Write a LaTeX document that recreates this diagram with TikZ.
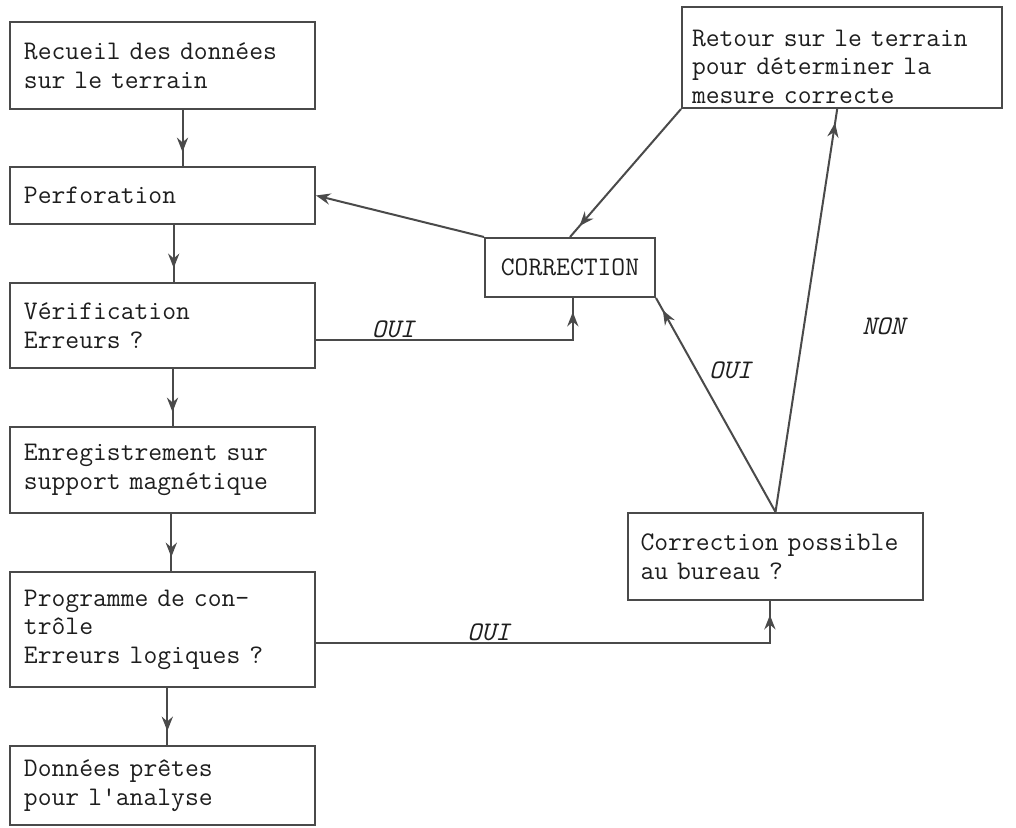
\documentclass[tikz,border=0pt]{standalone}
\usepackage{fontspec}
\usetikzlibrary{arrows.meta,decorations.markings,positioning}
\definecolor{trait}{HTML}{4A4A4A}
\definecolor{encre}{HTML}{1E1E1E}
\newcommand{\policeboite}{\ttfamily\fontsize{19.1pt}{20.3pt}\selectfont}
\tikzset{
  boite/.style={draw=trait, line width=0.5mm, text=encre, align=left, inner xsep=3.5mm, inner ysep=0pt, font=\policeboite},
  gauche/.style={boite, text width=69.25mm},
  pointe/.tip={Stealth[length=3.6mm, width=2.8mm, inset=1.2mm]},
  fleche/.style={color=trait, line width=0.5mm, postaction={decorate},
    decoration={markings, mark=at position -3.5mm with {\arrow{pointe}}}},
  flechebout/.style={color=trait, line width=0.5mm, -pointe},
  reponse/.style={text=encre, font=\policeboite\itshape, inner sep=1pt},
}
\begin{document}
\begin{tikzpicture}[x=0.25mm, y=-0.25mm]
\fill[white] (0,0) rectangle (1016,827);
\useasboundingbox (0,0) rectangle (1016,827);
% colonne de gauche
\node[gauche, minimum height=21.75mm] (recueil) at (162.5,65.5) {Recueil des données\\sur le terrain};
\node[gauche, minimum height=14.25mm] (perfo) at (162.5,195.5) {Perforation};
\node[gauche, minimum height=21.25mm] (verif) at (162.5,325.5) {Vérification\\Erreurs ?};
\node[gauche, minimum height=21.5mm] (enreg) at (162.5,470) {Enregistrement sur\\support magnétique};
\node[gauche, minimum height=28.75mm] (prog) at (162.5,629.5) {Programme de con-\\trôle\\Erreurs logiques ?};
\node[gauche, minimum height=19.75mm] (donnees) at (162.5,785.5) {Données prêtes\\pour l'analyse};
% cote droit
\node[boite, inner xsep=2.5mm, text width=75mm, minimum height=25.25mm] (retour) at (842,57.5) {\rule{0pt}{25pt}Retour sur le terrain\\pour déterminer la\\mesure correcte};
\node[boite, align=center, minimum width=42.5mm, minimum height=14.75mm] (corr) at (570,267.5) {CORRECTION};
\node[boite, inner xsep=3.1mm, text width=67.5mm, minimum height=21.75mm] (bureau) at (775.5,556.5) {Correction possible\\au bureau ?};
% fleches
\foreach \a/\b/\d in {recueil/perfo/5mm, perfo/verif/2.8mm, verif/enreg/2.5mm, enreg/prog/2.2mm, prog/donnees/1.2mm}
  \draw[fleche] ([xshift=\d]\a.south) -- ([xshift=\d]\b.north);
\draw[fleche] ([yshift=-3.6mm]verif.east) -| node[reponse, pos=0.15, above] (oui1) {OUI} ([xshift=0.7mm]corr.south);
\draw[fleche] ([yshift=-3.4mm]prog.east) -| node[reponse, pos=0.19, above] (oui3) {OUI} ([xshift=-1.4mm]bureau.south);
\draw[fleche] (bureau.north) -- node[reponse, pos=0.66, right=2.5mm] (oui2) {OUI} (corr.south east);
\draw[fleche] (bureau.north) -- node[reponse, pos=0.46, right=14mm] (non) {NON} ([xshift=-1.2mm]retour.south);
\draw[fleche] (retour.south west) -- (corr.north);
\draw[flechebout] (corr.north west) -- (perfo.east);
\end{tikzpicture}
\end{document}
